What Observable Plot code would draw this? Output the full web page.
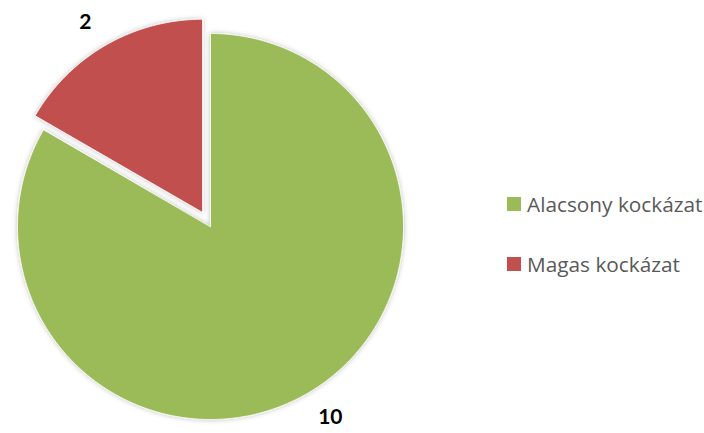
<!DOCTYPE html>
<html>
<head>
<meta charset="utf-8">
<script src="https://cdn.jsdelivr.net/npm/d3@7"></script>
<script src="https://cdn.jsdelivr.net/npm/@observablehq/plot@0.6"></script>
<style>
  html, body { margin: 0; padding: 0; background: #fff; }
  #wrap { position: relative; width: 704px; height: 433px; overflow: hidden; }
  #legend { position: absolute; left: 507px; top: 189px; font-family: "Open Sans", Lato, sans-serif; font-size: 20.8px; color: #595959; }
  .item { display: flex; align-items: center; height: 30px; margin-bottom: 30px; white-space: nowrap; }
  .sw { width: 14px; height: 14px; margin-right: 6px; }
</style>
</head>
<body>
<div id="wrap"><div id="legend"></div></div>
<script>
const categories = ["Alacsony kockázat", "Magas kockázat"];
const values = [10, 2];

const palette = ["#9BBB59", "#C0504D"];
const exploded = "Magas kockázat";

const pie = d3.pie().sort(null).value(d => d.value)(categories.map((c, i) => ({cat: c, value: values[i]})));

const R = 1;
const explodeDist = 0.085;
const cx = 210, cy = 226, rp = 193;
const pts = [];
const labels = [];
pie.forEach(s => {
  const mid = (s.startAngle + s.endAngle) / 2;
  const off = s.data.cat === exploded ? explodeDist : 0;
  const ox = off * Math.sin(mid), oy = off * Math.cos(mid);
  pts.push({cat: s.data.cat, x: ox, y: oy});
  const n = Math.max(2, Math.ceil((s.endAngle - s.startAngle) / (Math.PI / 360)));
  for (let k = 0; k <= n; k++) {
    const a = s.startAngle + (s.endAngle - s.startAngle) * k / n;
    pts.push({cat: s.data.cat, x: ox + R * Math.sin(a), y: oy + R * Math.cos(a)});
  }
  const lr = 1.18;
  const txt = String(s.data.value);
  // push label outward horizontally by part of its width (outside-end style)
  const push = Math.sin(mid) * txt.length * 6 / rp;
  labels.push({x: ox + lr * Math.sin(mid) + push, y: oy + lr * Math.cos(mid) - Math.cos(mid) * 8 / rp, text: txt});
});

const plot = Plot.plot({
  width: 704,
  height: 433,
  margin: 0,
  x: {domain: [-1, 1], range: [cx - rp, cx + rp], axis: null},
  y: {domain: [-1, 1], range: [cy + rp, cy - rp], axis: null},
  color: {domain: categories, range: palette},
  style: {fontFamily: "Lato, 'Open Sans', sans-serif", background: "white"},
  marks: [
    Plot.line(pts, {x: "x", y: "y", z: "cat", fill: "cat", stroke: "white", strokeWidth: 0.8, curve: "linear-closed"}),
    Plot.text(labels, {x: "x", y: "y", text: "text", fontSize: 21, fontWeight: "bold", fill: "black"})
  ]
});

const svg = d3.select(plot);
const defs = svg.insert("defs", ":first-child");
const f = defs.append("filter").attr("id", "sh").attr("x", "-10%").attr("y", "-10%").attr("width", "120%").attr("height", "120%");
f.append("feDropShadow").attr("dx", 0).attr("dy", 0).attr("stdDeviation", 2.5).attr("flood-color", "#000").attr("flood-opacity", 0.25);
svg.selectAll("path").filter(function() { return this.closest("g[aria-label='line']"); }).attr("filter", "url(#sh)");

const wrap = document.getElementById("wrap");
wrap.insertBefore(plot, wrap.firstChild);

const legend = d3.select("#legend");
categories.forEach((c, i) => {
  const it = legend.append("div").attr("class", "item");
  it.append("div").attr("class", "sw").style("background", palette[i]);
  it.append("span").text(c);
});
</script>
</body>
</html>
